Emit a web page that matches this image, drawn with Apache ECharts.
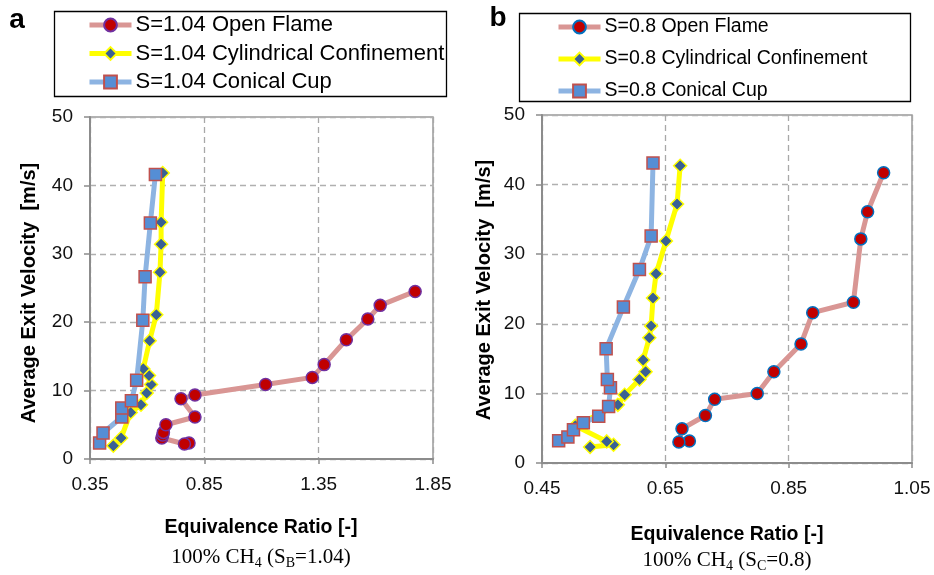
<!DOCTYPE html>
<html>
<head>
<meta charset="utf-8">
<script src="https://cdn.jsdelivr.net/npm/echarts@6/dist/echarts.min.js"></script>
<style>html,body{margin:0;padding:0;background:#fff;}#c{width:934px;height:575px;}</style>
</head>
<body>
<div id="c"></div>
<script>
// Panel a (S=1.04)
const openB_phi = [0.783, 0.763, 0.664, 0.668, 0.671, 0.682, 0.809, 0.748, 0.809, 1.118, 1.322, 1.374, 1.471, 1.565, 1.619, 1.772];
const openB_v   = [2.34, 2.19, 3.07, 3.5, 3.89, 5.01, 6.14, 8.8, 9.35, 10.9, 11.93, 13.8, 17.44, 20.47, 22.46, 24.5];
const cylB_phi  = [0.452, 0.486, 0.528, 0.573, 0.598, 0.617, 0.608, 0.583, 0.611, 0.640, 0.656, 0.661, 0.661, 0.668];
const cylB_v    = [1.94, 3.07, 6.81, 7.94, 9.65, 10.9, 12.2, 13.2, 17.3, 21.1, 27.3, 31.4, 34.6, 41.8];
const conB_phi  = [0.392, 0.407, 0.489, 0.489, 0.531, 0.554, 0.581, 0.591, 0.614, 0.636];
const conB_v    = [2.34, 3.8, 6.14, 7.45, 8.52, 11.5, 20.3, 26.65, 34.5, 41.6];
// Panel b (S=0.8)
const openC_phi = [0.689, 0.672, 0.677, 0.715, 0.730, 0.799, 0.826, 0.870, 0.889, 0.955, 0.967, 0.978, 1.004];
const openC_v   = [3.15, 3.01, 4.92, 6.83, 9.17, 9.98, 13.1, 17.1, 21.6, 23.1, 32.2, 36.1, 41.7];
const cylC_phi  = [0.528, 0.566, 0.555, 0.504, 0.573, 0.584, 0.608, 0.618, 0.614, 0.624, 0.627, 0.630, 0.635, 0.651, 0.669, 0.674];
const cylC_v    = [2.29, 2.62, 3.1, 5.35, 8.36, 9.8, 12.0, 13.1, 14.8, 18.0, 19.7, 23.7, 27.2, 31.9, 37.2, 42.7];
const conC_phi  = [0.477, 0.492, 0.501, 0.517, 0.542, 0.558, 0.561, 0.556, 0.554, 0.582, 0.608, 0.627, 0.630];
const conC_v    = [3.2, 3.73, 4.77, 5.8, 6.7, 8.1, 10.8, 12.0, 16.4, 22.4, 27.8, 32.6, 43.1];

const namesB = ['S=1.04 Open Flame', 'S=1.04 Cylindrical Confinement', 'S=1.04 Conical Cup'];
const namesC = ['S=0.8 Open Flame', 'S=0.8 Cylindrical Confinement', 'S=0.8 Conical Cup'];
const xRangeB = [0.35, 1.85, 0.5];
const xRangeC = [0.45, 1.05, 0.2];
const yRange = [0, 50, 10];
const xTitle = 'Equivalence Ratio [-]';
const yTitle = 'Average Exit Velocity  [m/s]';

const zip = (a, b) => a.map((x, i) => [x, b[i]]);
const FONT = 'Liberation Sans, Arial, sans-serif';
const SERIF = 'Liberation Serif, Times New Roman, serif';

function xAxis(idx, r) {
  return {
    type: 'value', gridIndex: idx, min: r[0], max: r[1], interval: r[2],
    axisLine: { show: true, lineStyle: { color: '#8c8c8c', width: 2 } },
    axisTick: { show: true, length: 5, lineStyle: { color: '#8c8c8c', width: 1.5 } },
    axisLabel: { margin: 16, fontSize: 19, color: '#111', fontFamily: FONT,
      formatter: v => v.toFixed(2) },
    splitLine: { show: true, lineStyle: { color: '#a8a8a8', width: 1.3, type: [6, 4] } }
  };
}
function yAxis(idx) {
  return {
    type: 'value', gridIndex: idx, min: yRange[0], max: yRange[1], interval: yRange[2],
    axisLine: { show: true, lineStyle: { color: '#8c8c8c', width: 2 } },
    axisTick: { show: true, length: 6, lineStyle: { color: '#8c8c8c', width: 1.5 } },
    axisLabel: { margin: 17, fontSize: 19, color: '#111', fontFamily: FONT },
    splitLine: { show: true, lineStyle: { color: '#b0b0b0', width: 1.3, type: [6, 4] } }
  };
}
function openSeries(name, idx, data, border) {
  return { type: 'line', name, xAxisIndex: idx, yAxisIndex: idx, data,
    symbol: 'circle', symbolSize: 12, z: 2,
    lineStyle: { color: '#d99694', width: 5 },
    itemStyle: { color: '#c00000', borderColor: border, borderWidth: 1.5 } };
}
function cylSeries(name, idx, data) {
  return { type: 'line', name, xAxisIndex: idx, yAxisIndex: idx, data,
    symbol: 'diamond', symbolSize: 13, z: 3,
    lineStyle: { color: '#ffff00', width: 5 },
    itemStyle: { color: '#3a6194', borderColor: '#ffff00', borderWidth: 1.5 } };
}
function conSeries(name, idx, data) {
  return { type: 'line', name, xAxisIndex: idx, yAxisIndex: idx, data,
    symbol: 'rect', symbolSize: 12, z: 4,
    lineStyle: { color: '#8db4e2', width: 5 },
    itemStyle: { color: '#558ed5', borderColor: '#c0504d', borderWidth: 1.5 } };
}
function legend(names, left, top, gap, fs) {
  return { data: names, left, top, padding: 0, orient: 'vertical', itemWidth: 42, itemHeight: 16,
    itemGap: gap, selectedMode: false,
    lineStyle: { width: 5 },
    textStyle: { fontSize: fs, color: '#000', fontFamily: FONT, padding: [0, 0, 0, -1] } };
}

const chart = echarts.init(document.getElementById('c'));
chart.setOption({
  animation: false,
  backgroundColor: '#fff',
  grid: [
    { left: 90, right: 501, top: 117, bottom: 116, show: true, borderColor: '#9a9a9a', borderWidth: 1.5 },
    { left: 542, right: 22, top: 115, bottom: 112, show: true, borderColor: '#9a9a9a', borderWidth: 1.5 }
  ],
  xAxis: [xAxis(0, xRangeB), xAxis(1, xRangeC)],
  yAxis: [yAxis(0), yAxis(1)],
  legend: [legend(namesB, 87, 14, 6.5, 22), legend(namesC, 556, 17, 12, 19.5)],
  series: [
    openSeries(namesB[0], 0, zip(openB_phi, openB_v), '#7030a0'),
    cylSeries(namesB[1], 0, zip(cylB_phi, cylB_v)),
    conSeries(namesB[2], 0, zip(conB_phi, conB_v)),
    openSeries(namesC[0], 1, zip(openC_phi, openC_v), '#0070c0'),
    cylSeries(namesC[1], 1, zip(cylC_phi, cylC_v)),
    conSeries(namesC[2], 1, zip(conC_phi, conC_v))
  ],
  graphic: [
    { type: 'rect', shape: { x: 54.5, y: 11.5, width: 392, height: 85 }, style: { fill: 'none', stroke: '#000', lineWidth: 1.3 }, z: 0 },
    { type: 'rect', shape: { x: 519.5, y: 13.5, width: 391, height: 88 }, style: { fill: 'none', stroke: '#000', lineWidth: 1.3 }, z: 0 },
    { type: 'text', x: 17, y: 20, style: { text: 'a', fontSize: 28, fontWeight: 'bold', fontFamily: FONT, fill: '#000', align: 'center', verticalAlign: 'middle' } },
    { type: 'text', x: 498, y: 18, style: { text: 'b', fontSize: 28, fontWeight: 'bold', fontFamily: FONT, fill: '#000', align: 'center', verticalAlign: 'middle' } },
    { type: 'text', x: 29, y: 293, rotation: Math.PI / 2, style: { text: yTitle, fontSize: 20, fontWeight: 'bold', fontFamily: FONT, fill: '#000', align: 'center', verticalAlign: 'middle' } },
    { type: 'text', x: 484, y: 290, rotation: Math.PI / 2, style: { text: yTitle, fontSize: 20, fontWeight: 'bold', fontFamily: FONT, fill: '#000', align: 'center', verticalAlign: 'middle' } },
    { type: 'text', x: 261, y: 528, style: { text: xTitle, fontSize: 19.5, fontWeight: 'bold', fontFamily: FONT, fill: '#000', align: 'center', verticalAlign: 'middle' } },
    { type: 'text', x: 727, y: 535, style: { text: xTitle, fontSize: 19.5, fontWeight: 'bold', fontFamily: FONT, fill: '#000', align: 'center', verticalAlign: 'middle' } },
    { type: 'text', x: 261, y: 557, style: { text: '100% CH{s|4} (S{s|B}=1.04)', fontSize: 21, fontFamily: SERIF, fill: '#000', align: 'center', verticalAlign: 'middle', lineHeight: 26,
        rich: { s: { fontSize: 14, fontFamily: SERIF, lineHeight: 16, verticalAlign: 'bottom' } } } },
    { type: 'text', x: 727, y: 560, style: { text: '100% CH{s|4} (S{s|C}=0.8)', fontSize: 21, fontFamily: SERIF, fill: '#000', align: 'center', verticalAlign: 'middle', lineHeight: 26,
        rich: { s: { fontSize: 14, fontFamily: SERIF, lineHeight: 16, verticalAlign: 'bottom' } } } }
  ]
});
</script>
</body>
</html>
